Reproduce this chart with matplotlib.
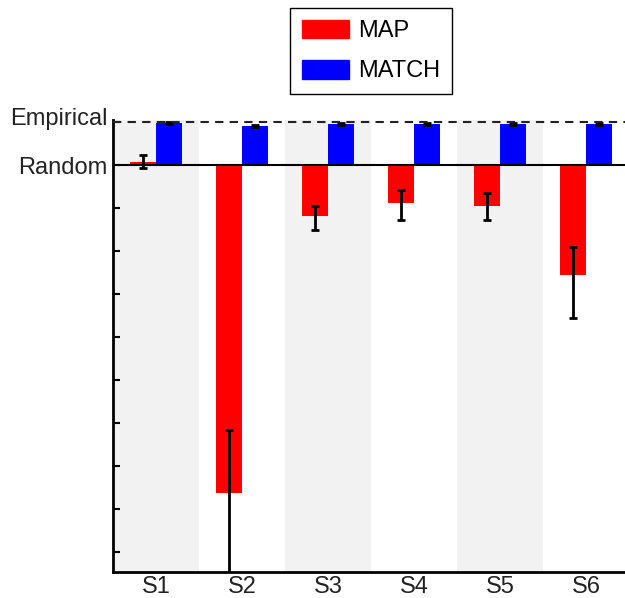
import numpy as np
import matplotlib.pyplot as plt
import matplotlib.transforms as mtransforms
from matplotlib.patches import Patch

plt.rcParams['font.family'] = ['Liberation Sans', 'DejaVu Sans']

subjects = ['S1', 'S2', 'S3', 'S4', 'S5', 'S6']
map_vals = [0.08, -7.63, -1.19, -0.88, -0.95, -2.56]
map_err_lo = [0.16, 2.0, 0.32, 0.40, 0.33, 1.0]
map_err_hi = [0.16, 1.46, 0.23, 0.30, 0.29, 0.65]
match_vals = [0.98, 0.91, 0.96, 0.95, 0.95, 0.95]
match_err = [0.02, 0.03, 0.02, 0.02, 0.02, 0.02]
ytick_vals = [1, 0, -1, -2, -3, -4, -5, -6, -7, -8, -9]
ytick_text = ['Empirical', 'Random'] + [''] * 9

fig = plt.figure(figsize=(6.25, 5.98), dpi=100)
ax = fig.add_axes([0.1808, 0.0435, 0.8256, 0.756])

x = np.arange(1, len(subjects) + 1)
w = 0.3

# alternating background bands
for i in x:
    if i % 2 == 1:
        ax.axvspan(i - 0.5, i + 0.5, color='#f2f2f2', zorder=0, lw=0)

ax.bar(x - w / 2, map_vals, w, color='#ff0000', zorder=2, label='MAP')
ax.bar(x + w / 2, match_vals, w, color='#0000ff', zorder=2, label='MATCH')
ax.errorbar(x - w / 2, map_vals, yerr=[map_err_lo, map_err_hi], fmt='none',
            ecolor='black', elinewidth=2, capsize=3, capthick=2, zorder=3)
ax.errorbar(x + w / 2, match_vals, yerr=match_err, fmt='none',
            ecolor='black', elinewidth=2, capsize=3, capthick=2, zorder=3)

ax.axhline(0, color='black', lw=1.5, zorder=4)
ax.axhline(1, color='#222222', lw=1.5, ls=(0, (4, 3)), zorder=4)

ax.set_xlim(0.5, 6.5)
ax.set_ylim(-9.47, 1.05)
ax.set_xticks(x)
ax.set_xticklabels(subjects, fontsize=17, color='#222222')
ax.set_yticks(ytick_vals)
ax.set_yticklabels(ytick_text, fontsize=17, color='#222222')
ax.tick_params(axis='y', direction='in', length=5, width=1.5, pad=4)
ax.tick_params(axis='x', length=0, pad=3)

# nudge the "Empirical" label up a little, as in the original
lab = ax.get_yticklabels()[0]
lab.set_transform(lab.get_transform() + mtransforms.ScaledTranslation(0, 4 / 72, fig.dpi_scale_trans))

for s in ['top', 'right']:
    ax.spines[s].set_visible(False)
for s in ['left', 'bottom']:
    ax.spines[s].set_linewidth(2)

handles = [Patch(color='#ff0000', label='MAP'), Patch(color='#0000ff', label='MATCH')]
leg = fig.legend(handles=handles, loc='upper left', bbox_to_anchor=(0.464, 0.987),
                 borderaxespad=0, fontsize=17, handlelength=2.0, handleheight=0.85,
                 labelspacing=0.75, borderpad=0.5, handletextpad=0.4,
                 fancybox=False, edgecolor='black', framealpha=1)
leg.get_frame().set_linewidth(1)

fig.savefig('out.png', dpi=100)
